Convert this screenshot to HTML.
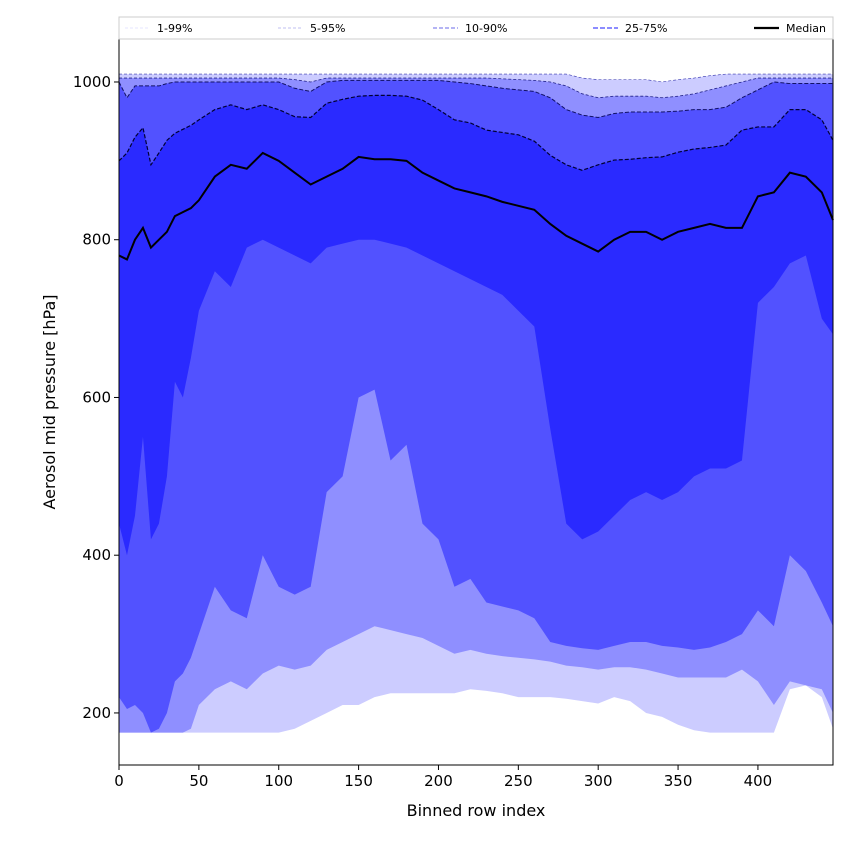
<!DOCTYPE html>
<html><head><meta charset="utf-8"><style>
body{margin:0;background:#fff}
svg text{font-family:"DejaVu Sans","Liberation Sans",sans-serif}
</style></head><body>
<svg id="chart" width="850" height="850" viewBox="0 0 850 850" xmlns="http://www.w3.org/2000/svg">
<g id="bands"></g>
<g id="axes"></g>
<g id="legend"></g>
</svg>
<script>
const xs=[0,5,10,15,20,25,30,35,40,45,50,60,70,80,90,100,110,120,130,140,150,160,170,180,190,200,210,220,230,240,250,260,270,280,290,300,310,320,330,340,350,360,370,380,390,400,410,420,430,440,447];
const p1=[175,175,175,175,175,175,175,175,175,175,175,175,175,175,175,175,180,190,200,210,210,220,225,225,225,225,225,230,228,225,220,220,220,218,215,212,220,215,200,195,185,178,175,175,175,175,175,230,235,220,180];
const p5=[175,175,175,175,175,175,175,175,175,180,210,230,240,230,250,260,255,260,280,290,300,310,305,300,295,285,275,280,275,272,270,268,265,260,258,255,258,258,255,250,245,245,245,245,255,240,210,240,235,230,200];
const p10=[220,205,210,200,175,180,200,240,250,270,300,360,330,320,400,360,350,360,480,500,600,610,520,540,440,420,360,370,340,335,330,320,290,285,282,280,285,290,290,285,283,280,283,290,300,330,310,400,380,340,310];
const p25=[440,400,450,550,420,440,500,620,600,650,710,760,740,790,800,790,780,770,790,795,800,800,795,790,780,770,760,750,740,730,710,690,560,440,420,430,450,470,480,470,480,500,510,510,520,720,740,770,780,700,680];
const median=[780,775,800,815,790,800,810,830,835,840,850,880,895,890,910,900,885,870,880,890,905,902,902,900,885,875,865,860,855,848,843,838,820,805,795,785,800,810,810,800,810,815,820,815,815,855,860,885,880,860,825];
const p75=[900,910,930,942,895,910,926,935,940,945,952,965,971,965,971,965,956,955,973,978,982,983,983,982,977,965,952,948,939,936,933,925,907,895,888,895,901,902,904,905,911,915,917,920,939,943,943,965,965,952,926];
const p90=[1000,980,995,995,995,995,998,1000,1000,1000,1000,1000,1000,1000,1000,1000,992,988,1000,1002,1002,1002,1002,1002,1002,1002,1000,998,995,992,990,988,980,965,958,955,960,962,962,962,963,965,965,968,980,990,1000,998,998,998,998];
const p95=[1005,1005,1005,1005,1005,1005,1005,1005,1005,1005,1005,1005,1005,1005,1005,1005,1003,1000,1005,1005,1005,1005,1005,1005,1005,1005,1005,1005,1005,1004,1003,1002,1000,995,985,980,982,982,982,980,982,985,990,995,1000,1005,1005,1005,1005,1005,1005];
const p99=[1010,1010,1010,1010,1010,1010,1010,1010,1010,1010,1010,1010,1010,1010,1010,1010,1010,1010,1010,1010,1010,1010,1010,1010,1010,1010,1010,1010,1010,1010,1010,1010,1010,1010,1005,1003,1003,1003,1003,1000,1003,1005,1008,1010,1010,1010,1010,1010,1010,1010,1010];
const xTicks=[0,50,100,150,200,250,300,350,400];
const yTicks=[200,400,600,800,1000];
const L=119,R=833,T=39,B=765,XMAX=447,YMIN=134,YMAX=1054.5;
const sx=v=>L+(v/XMAX)*(R-L);
const sy=v=>B-(v-YMIN)/(YMAX-YMIN)*(B-T);
const NS="http://www.w3.org/2000/svg";
function mk(tag,attrs,parent){const e=document.createElementNS(NS,tag);for(const k in attrs)e.setAttribute(k,attrs[k]);parent.appendChild(e);return e;}
const bands=document.getElementById('bands');
function band(lo,hi,color,name){
  let d='M'+xs.map((x,i)=>sx(x)+','+sy(hi[i])).join('L');
  for(let i=xs.length-1;i>=0;i--)d+='L'+sx(xs[i])+','+sy(lo[i]);
  const p=mk('path',{d:d+'Z',fill:color,stroke:'none'},bands);
  
  
}
function line(arr,color,w,dash,name){
  const p=mk('path',{d:'M'+xs.map((x,i)=>sx(x)+','+sy(arr[i])).join('L'),fill:'none',stroke:color,'stroke-width':w,'stroke-dasharray':dash},bands);
  
  
}
band(p1,p99,'#ccccff','band-1-99');
band(p5,p95,'#8f8fff','band-5-95');
band(p10,p90,'#5252ff','band-10-90');
band(p25,p75,'#2a2aff','band-25-75');
line(p99,'#3333aa',0.6,'3,2','line-p99');
line(p95,'#222288',0.8,'3,2','line-p95');
line(p90,'#111166',1,'4,2','line-p90');
line(p75,'#000033',1.2,'4,2','line-p75');
line(median,'#000',2,'none','median-line');
const ax=document.getElementById('axes');
const fr=mk('rect',{x:L,y:T,width:R-L,height:B-T,fill:'none',stroke:'#000','stroke-width':1},ax);


xTicks.forEach(t=>{
  mk('line',{x1:sx(t),x2:sx(t),y1:B,y2:B+5,stroke:'#000'},ax);
  const tx=mk('text',{x:sx(t),y:B+21,'text-anchor':'middle','font-size':15},ax);
  tx.textContent=t;
  
  
});
yTicks.forEach(t=>{
  mk('line',{x1:L-5,x2:L,y1:sy(t),y2:sy(t),stroke:'#000'},ax);
  const tx=mk('text',{x:L-8,y:sy(t)+5,'text-anchor':'end','font-size':15},ax);
  tx.textContent=t;
  
  
});
const xt=mk('text',{x:(L+R)/2,y:816,'text-anchor':'middle','font-size':16},ax);
xt.textContent='Binned row index';


const yt=mk('text',{x:55,y:(T+B)/2,'text-anchor':'middle','font-size':16,transform:'rotate(-90 55 '+((T+B)/2)+')'},ax);
yt.textContent='Aerosol mid pressure [hPa]';


const lg=document.getElementById('legend');
mk('rect',{x:119,y:17,width:714,height:22,fill:'#fff',stroke:'#ccc'},lg);
const ent=[['1-99%','#ddddff',0.8,'3,2',125],['5-95%','#aaaaee',0.8,'3,2',278],['10-90%','#8888ee',1.2,'4,2',433],['25-75%','#6666ff',1.6,'5,2',593],['Median','#000',2.2,'none',754]];
ent.forEach(e=>{
  const g=mk('g',{},lg);
  
  
  mk('line',{x1:e[4],x2:e[4]+25,y1:28,y2:28,stroke:e[1],'stroke-width':e[2],'stroke-dasharray':e[3]},g);
  const t=mk('text',{x:e[4]+32,y:32,'font-size':11},g);
  t.textContent=e[0];
});
</script>
</body></html>
